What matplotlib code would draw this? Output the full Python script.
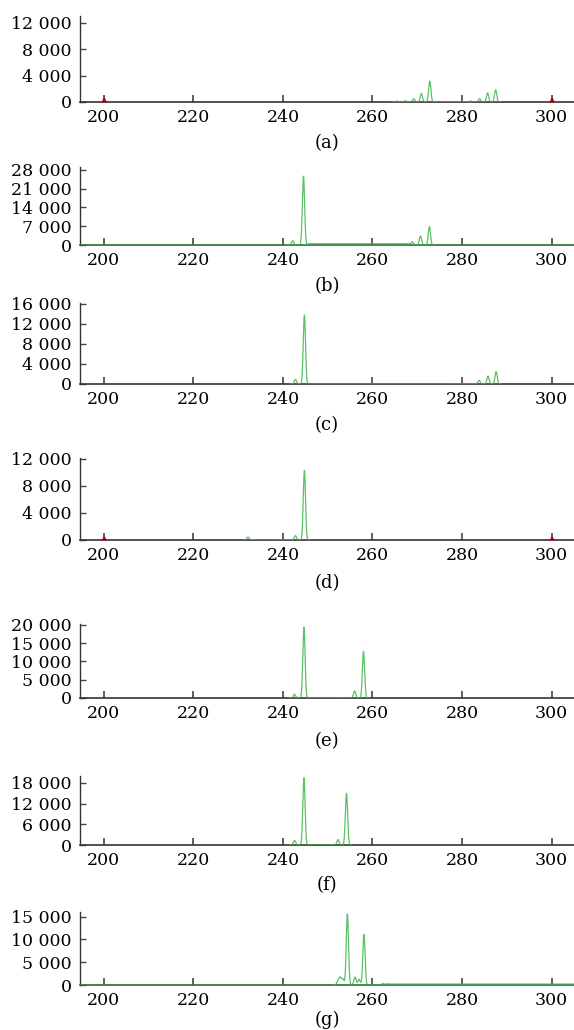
import numpy as np
import matplotlib
matplotlib.use("Agg")
import matplotlib.pyplot as plt

plt.rcParams["font.family"] = ["DejaVu Serif"]

# Peak tables per panel: size (bp), height (RFU)
PANEL_NAMES = ["(a)", "(b)", "(c)", "(d)", "(e)", "(f)", "(g)"]

GREEN_POS = [
    [265.4, 267.3, 269.2, 270.9, 272.8, 281.9, 283.9, 285.7, 287.5],
    [242.2, 244.6, 268.9, 270.7, 272.7],
    [242.8, 244.8, 281.9, 283.8, 285.8, 287.6],
    [232.2, 242.8, 244.8],
    [242.6, 244.7, 256.0, 258.0],
    [242.6, 244.7, 252.3, 254.2],
    [252.3, 252.8, 253.4, 254.4, 256.1, 257.0, 258.1, 262.3, 263.6],
]
GREEN_H = [
    [150, 200, 500, 1270, 3150, 150, 500, 1370, 1830],
    [1600, 25600, 1230, 3330, 6780],
    [930, 13800, 100, 730, 1600, 2470],
    [450, 650, 10270],
    [1010, 19300, 1930, 12700],
    [1360, 19500, 1550, 15000],
    [940, 1590, 1300, 15600, 1740, 1230, 11070, 350, 300],
]
# raised baseline segments: (start, end, level)
BASE_SEG = [
    [],
    [(245.6, 268.4, 480)],
    [],
    [],
    [],
    [],
    [(262.0, 305.0, 200)],
]
# size-standard (red) peaks
RED_POS = [[200.0, 300.0], [], [], [200.0, 300.0], [], [], []]
RED_H = [[750, 750], [], [], [600, 600], [], [], []]

Y_TICKS = [
    [0, 4000, 8000, 12000],
    [0, 7000, 14000, 21000, 28000],
    [0, 4000, 8000, 12000, 16000],
    [0, 4000, 8000, 12000],
    [0, 5000, 10000, 15000, 20000],
    [0, 6000, 12000, 18000],
    [0, 5000, 10000, 15000],
]
Y_MAX = [13000, 29000, 16200, 12100, 20200, 20000, 16000]
X_TICKS = [200, 220, 240, 260, 280, 300]
X_LIM = (194.7, 305.0)

# axes boxes in pixels (top, bottom) and caption y
W, H = 574, 1030
BOXES = [(16, 102), (167, 245), (303, 384), (458, 540), (624, 698),
         (776, 845), (912, 985)]
CAPTION_Y = [143, 286, 425, 583, 741, 885, 1020]
LEFT = 80

GREEN = "#3fb54a"
RED = "#b00010"


def trace(xs, pos, hts, sigma=0.25):
    y = np.zeros_like(xs)
    for p, h in zip(pos, hts):
        y += h * np.exp(-0.5 * ((xs - p) / sigma) ** 2)
    return y


def fmt(v):
    return f"{v:,}".replace(",", " ")


fig = plt.figure(figsize=(W / 100, H / 100), dpi=100)
xs = np.linspace(X_LIM[0], X_LIM[1], 6000)

for i in range(7):
    top, bot = BOXES[i]
    ax = fig.add_axes([LEFT / W, 1 - bot / H, (W - LEFT) / W, (bot - top) / H])

    y = trace(xs, GREEN_POS[i], GREEN_H[i])
    for a, b, lev in BASE_SEG[i]:
        m = (xs >= a) & (xs <= b)
        y[m] = np.maximum(y[m], lev)
    if GREEN_POS[i]:
        lo = min(GREEN_POS[i]) - 1.2
        hi = max(GREEN_POS[i]) + 1.2
        if BASE_SEG[i]:
            hi = max(hi, max(s[1] for s in BASE_SEG[i]))
        m = (xs >= lo) & (xs <= hi)
        ax.plot(xs[m], y[m], color=GREEN, lw=0.9, alpha=0.85, zorder=3)

    if RED_POS[i]:
        yr = trace(xs, RED_POS[i], RED_H[i], sigma=0.3)
        for p in RED_POS[i]:
            m = (xs > p - 1.0) & (xs < p + 1.0)
            ax.fill_between(xs[m], 0, yr[m], color=RED, lw=0, zorder=4)

    ax.set_xlim(*X_LIM)
    ax.set_ylim(0, Y_MAX[i])
    ax.set_xticks(X_TICKS)
    ax.set_xticklabels([str(t) for t in X_TICKS])
    ax.set_yticks(Y_TICKS[i])
    ax.set_yticklabels([fmt(t) for t in Y_TICKS[i]])
    for s in ["top", "right"]:
        ax.spines[s].set_visible(False)
    spine_col = "#2f6b35" if i in (1, 6) else "#333333"
    ax.spines["bottom"].set_color(spine_col)
    ax.spines["bottom"].set_linewidth(1.2)
    ax.spines["left"].set_color("#333333")
    ax.spines["left"].set_linewidth(1.0)
    ax.tick_params(axis="x", direction="in", length=5, width=1.2,
                   color="#444444", labelsize=12.5, pad=5)
    ax.tick_params(axis="y", direction="in", length=4, width=1.0,
                   color="#444444", labelsize=12.5, pad=6)
    ax.patch.set_alpha(0)

    fig.text((LEFT + W) / 2 / W, 1 - CAPTION_Y[i] / H, PANEL_NAMES[i],
             ha="center", va="center", fontsize=13)

fig.savefig("out.png", dpi=100)
